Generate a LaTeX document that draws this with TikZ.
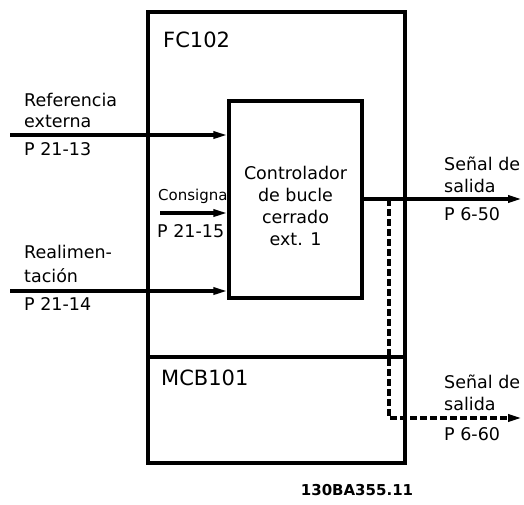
\documentclass[tikz,border=0pt]{standalone}
\usepackage{fontspec}
\setmainfont{DejaVu Sans}
\usetikzlibrary{arrows.meta, math, positioning}

\tikzset{
  thick line/.style={line width=3.3pt},
  arr/.style={thick line, -{Triangle[length=14pt,width=7pt]}},
  lbl/.style={anchor=base west, inner sep=0pt, font=\fontsize{17.5}{22}\selectfont},
}

\begin{document}
\begin{tikzpicture}[x=1pt,y=-1pt]
\useasboundingbox (0,0) rectangle (524,504);
\tikzmath{
\xL=148; \xR=405;
\yT=12; \yB=463;
\ydiv=357;
\yref=135; \ycons=213; \yfb=291;
\yout=199; \ydash=418;
\xdash=389;
}

% frequency converter and option card
\node[draw, thick line, minimum width=\xR-\xL, minimum height=\yB-\yT, inner sep=0pt] (fc) at ({(\xL+\xR)/2},{(\yT+\yB)/2}) {};
\coordinate (divL) at (\xL,\ydiv);
\coordinate (divR) at (\xR,\ydiv);
\draw[thick line] (divL) -- (divR);
\node[lbl, font=\fontsize{21}{22}\selectfont] (fcname) at (163,47) {FC102};
\node[lbl, font=\fontsize{21}{22}\selectfont] (mcb) at (161,385) {MCB101};

% controller
\node[draw, thick line, minimum width=133, minimum height=197, inner sep=0pt] (ctrl) at (295.5,199.5) {};
\node[align=center, inner sep=0pt, font=\fontsize{17.5}{21.7}\selectfont] (ctrltxt) at (295.5,206) {Controlador\\de bucle\\cerrado\\ext. 1};

% inputs
\coordinate (inref) at (10,\yref);
\coordinate (incons) at (160,\ycons);
\coordinate (infb) at (10,\yfb);
\draw[arr] (inref) -- (ctrl.west |- inref);
\draw[arr] (incons) -- (ctrl.west |- incons);
\draw[arr] (infb) -- (ctrl.west |- infb);

\node[lbl] (ref1) at (24,106) {Referencia};
\node[lbl] (ref2) at (24,127) {externa};
\node[lbl] (refp) at (24,155) {P 21-13};
\node[lbl, font=\fontsize{15}{21}\selectfont] (cons) at (158,200) {Consigna};
\node[lbl] (consp) at (157,237) {P 21-15};
\node[lbl] (fb1) at (24,258) {Realimen-};
\node[lbl] (fb2) at (24,282) {tación};
\node[lbl] (fbp) at (24,310) {P 21-14};

% outputs
\coordinate (outend) at (522,\yout);
\coordinate (dtop) at (\xdash,\yout);
\coordinate (dbot) at (\xdash,\ydash);
\coordinate (dend) at (522,\ydash);
\draw[arr] (ctrl.east |- outend) -- (outend);
\draw[arr, dash pattern=on 7pt off 3pt] (dtop) -- (dbot) -- (dend);

\node[lbl] (out1) at (444,170) {Señal de};
\node[lbl] (out2) at (444,192) {salida};
\node[lbl] (outp) at (444,220) {P 6-50};
\node[lbl] (mout1) at (444,388) {Señal de};
\node[lbl] (mout2) at (444,410) {salida};
\node[lbl] (moutp) at (444,440) {P 6-60};

\node[anchor=base, inner sep=0pt, font=\bfseries\fontsize{15}{17}\selectfont] (code) at (357,495) {130BA355.11};
\end{tikzpicture}
\end{document}
